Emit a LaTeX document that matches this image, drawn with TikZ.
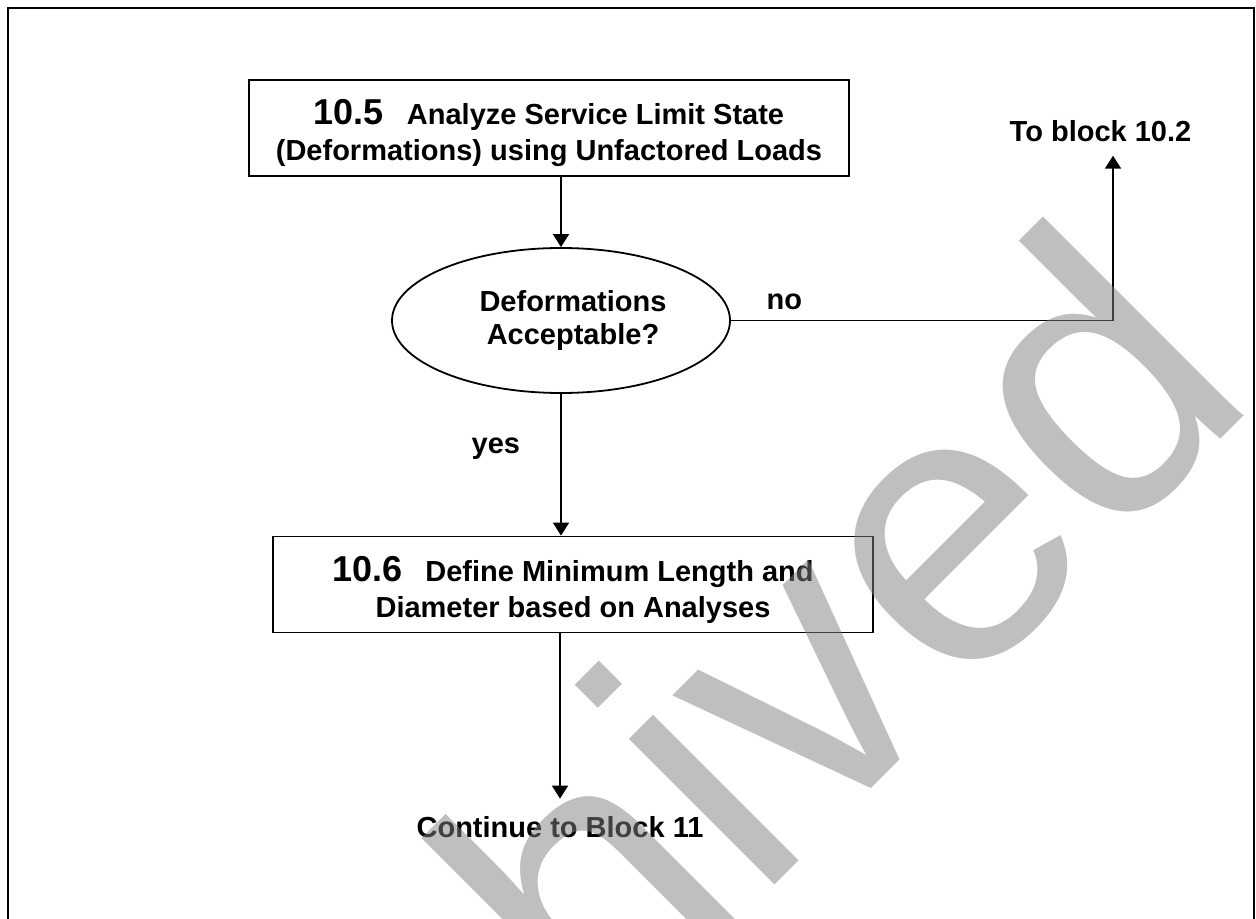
\documentclass[tikz,border=0pt]{standalone}
\usepackage{fontspec}
\setmainfont{Liberation Sans}
\usetikzlibrary{positioning,shapes.geometric,arrows.meta}

\newcommand{\blocknum}[1]{\rule{0pt}{18pt}{\fontsize{18}{18}\selectfont #1}\hspace{11.5pt}}

\begin{document}
\begin{tikzpicture}[
    x=0.5pt,
    y=-0.5pt,
    font=\bfseries\fontsize{14.5}{18}\selectfont,
    block/.style={
        draw,
        line width=0.9pt,
        minimum width=300pt,
        minimum height=48pt,
        align=center,
        inner sep=0pt
    },
    decision/.style={
        draw,
        ellipse,
        line width=0.9pt,
        minimum width=169pt,
        minimum height=72.5pt,
        align=center,
        inner sep=0pt,
        font=\bfseries\fontsize{14.5}{16.5}\selectfont
    },
    arrow/.style={-{Triangle[length=6.5pt,width=8pt]}, line width=0.9pt},
    lbl/.style={inner sep=0pt},
    wmark/.style={font=\mdseries\fontsize{195}{195}\selectfont, text=gray, text opacity=0.5, inner sep=0pt}
]
\useasboundingbox (0,0) rectangle (1256,919);

% ============================================================
% FRAME
% ============================================================
\draw[line width=1pt] (8,8) rectangle (1254,960);

% ============================================================
% NODES
% ============================================================
\node[block]    (b105)  at (549,128)
    {\blocknum{10.5}Analyze Service Limit State\\(Deformations) using Unfactored Loads};
\node[decision] (dec)   at (561,320.5)
    {\hspace*{12pt}Deformations\\\hspace*{12pt}Acceptable?};
\node[block]    (b106)  at (573,584.5)
    {\blocknum{10.6}Define Minimum Length and\\Diameter based on Analyses};

% exits
\node[lbl, anchor=base, inner ysep=6.5pt] (to102) at (1100.5,142) {To block 10.2};
\node[lbl, anchor=base, inner ysep=8.5pt] (cont)  at (560,837)    {Continue to Block 11};

% ============================================================
% EDGES
% ============================================================
\draw[arrow] (b105.south -| dec.north) -- (dec.north);
\draw[arrow] (dec.east) -| node[lbl, pos=0.07, above=5pt] {no} ([xshift=6.25pt]to102.south);
\draw[arrow] (dec.south) -- node[lbl, pos=0.39, left=20pt] {yes} (dec.south |- b106.north);
\draw[arrow] (b106.south -| cont.north) -- (cont.north);

% ============================================================
% WATERMARK
% ============================================================
\node[wmark, rotate=45, anchor=base west] (wm) at (189,1471) {Archived};

\end{tikzpicture}
\end{document}
